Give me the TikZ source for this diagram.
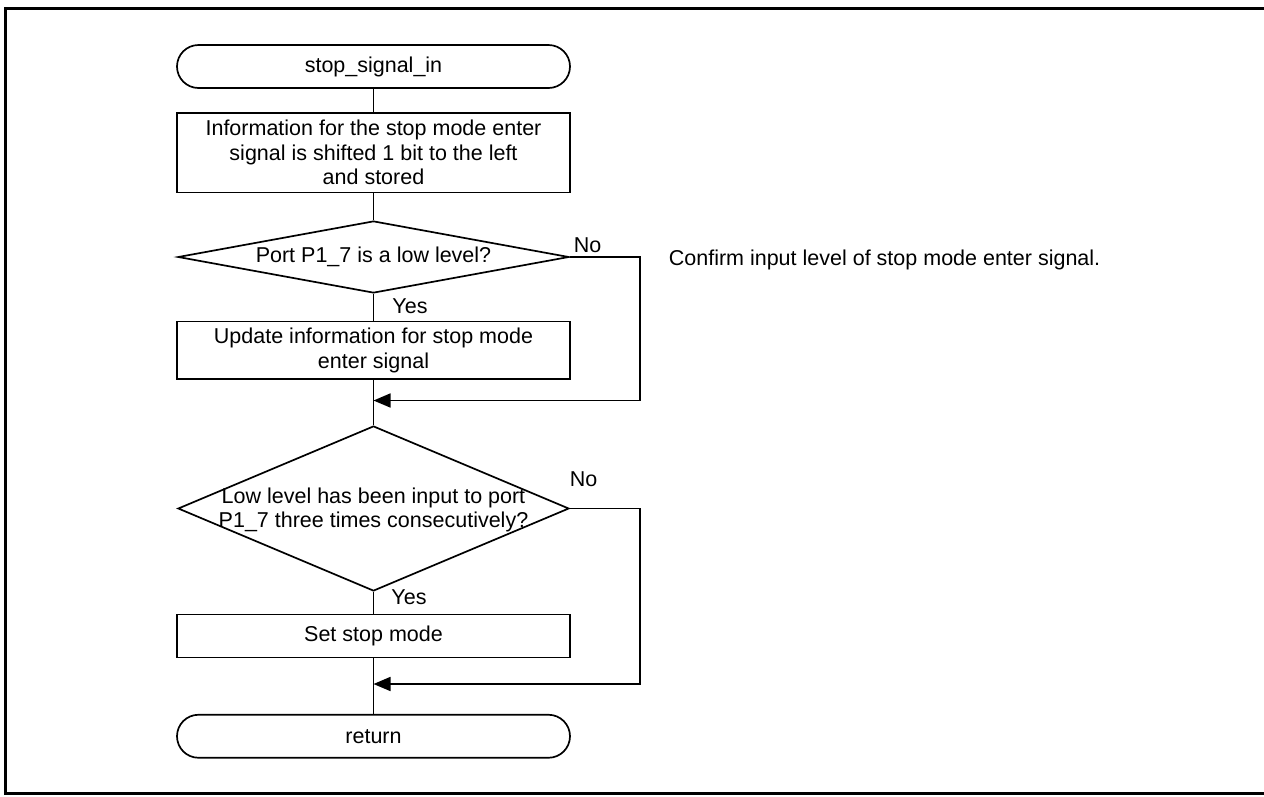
\documentclass[tikz,border=0pt]{standalone}
\usepackage{fontspec}
\setmainfont{Liberation Sans}
\usetikzlibrary{shapes.geometric,arrows.meta}

\tikzset{
  terminal/.style={draw, rectangle, rounded corners=21.5pt, minimum width=393pt,
    minimum height=43pt, inner sep=0pt},
  procbox/.style={draw, rectangle, minimum width=393pt, inner sep=0pt, align=center},
  decision/.style={draw, diamond, minimum width=391pt, inner sep=0pt},
  lbl/.style={inner sep=0pt, align=center},
  flow/.style={line width=1.7pt},
  merge/.style={flow, -{Triangle[length=17pt,width=14pt]}},
}

\begin{document}
\begin{tikzpicture}[x=1pt, y=-1pt, line width=1.7pt,
  font=\fontsize{21.5}{24.5}\selectfont]
\useasboundingbox (0,0) rectangle (1264,796);

% outer frame
\draw[line width=3pt] (1270,8.5) -- (5.5,8.5) -- (5.5,793.5) -- (1270,793.5);

% nodes of the flow
\node[terminal] (start) at (373.5,66.5) {stop\_signal\_in};
\node[procbox, minimum height=79.5pt] (shift) at (373.5,152.75)
  {Information for the stop mode enter\\signal is shifted 1 bit to the left\\and stored};
\node[decision, minimum height=72pt] (d1) at (373.5,257) {};
\node[lbl] (d1t) at (373.5,257) {Port P1\_7 is a low level?};
\node[procbox, minimum height=57.5pt] (upd) at (373.5,350.25)
  {Update information for stop mode\\enter signal};
\coordinate (m1) at (373.5,400.5);
\node[decision, minimum height=165pt] (d2) at (373.5,508.5) {};
\node[lbl] (d2t) at (373.5,510) {Low level has been input to port\\P1\_7 three times consecutively?};
\node[procbox, minimum height=43pt] (setstop) at (373.5,636) {Set stop mode};
\coordinate (m2) at (373.5,684);
\node[terminal] (ret) at (373.5,736.25) {return};

% labels
\node[lbl] (no1) at (587.5,245) {No};
\node[lbl] (yes1) at (410,306.5) {Yes};
\node[lbl] (no2) at (583.5,479) {No};
\node[lbl] (yes2) at (409,597) {Yes};
\node[lbl, anchor=base west] (note) at (668,265) {Confirm input level of stop mode enter signal.};

% connectors
\draw[flow] (start.south) -- (shift.north);
\draw[flow] (shift.south) -- (d1.north);
\draw[flow] (d1.south) -- (upd.north);
\draw[flow] (upd.south) -- (d2.north);
\draw[merge] (d1.east) -- ++(70,0) |- (m1);
\draw[flow] (d2.south) -- (setstop.north);
\draw[flow] (setstop.south) -- (ret.north);
\draw[merge] (d2.east) -- ++(70,0) |- (m2);
\end{tikzpicture}
\end{document}
